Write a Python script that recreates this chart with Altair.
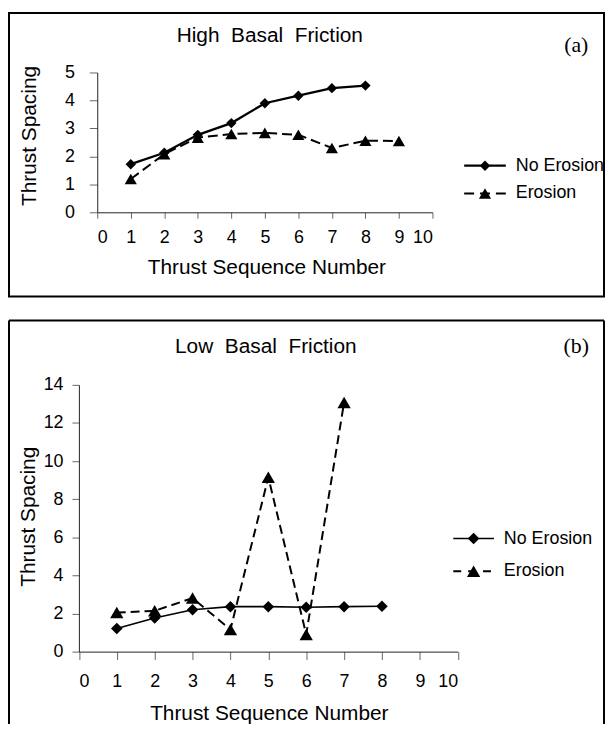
import altair as alt
import pandas as pd

# ---------------- data ----------------
series_names = ["No Erosion", "Erosion"]

seq_a_no = [1, 2, 3, 4, 5, 6, 7, 8]
a_no = [1.72, 2.13, 2.77, 3.19, 3.90, 4.17, 4.44, 4.53]
seq_a_er = [1, 2, 3, 4, 5, 6, 7, 8, 9]
a_er = [1.19, 2.08, 2.67, 2.80, 2.84, 2.77, 2.30, 2.56, 2.55]

seq_b_no = [1, 2, 3, 4, 5, 6, 7, 8]
b_no = [1.21, 1.76, 2.20, 2.36, 2.36, 2.33, 2.36, 2.38]
seq_b_er = [1, 2, 3, 4, 5, 6, 7]
b_er = [2.05, 2.14, 2.81, 1.16, 9.15, 0.90, 13.08]

x_ticks = [0, 1, 2, 3, 4, 5, 6, 7, 8, 9, 10]
ya_ticks = [0, 1, 2, 3, 4, 5]
yb_ticks = [0, 2, 4, 6, 8, 10, 12, 14]

title_a = "High\u00a0 Basal\u00a0 Friction"
title_b = "Low\u00a0 Basal\u00a0 Friction"
x_title = "Thrust Sequence Number"
y_title = "Thrust Spacing"

FONT = "Liberation Sans"
SERIF = "Liberation Serif"


def one(text=""):
    return pd.DataFrame({"t": [text]})


def txt(text, x, y, size, align="center", baseline="alphabetic", font=FONT, angle=0):
    kw = dict(font=font, fontSize=size, align=align, baseline=baseline, color="black")
    if angle:
        kw["angle"] = angle
    return alt.Chart(one(text)).mark_text(**kw).encode(
        x=alt.value(x), y=alt.value(y), text="t:N")


def panel(seq_no, v_no, seq_er, v_er, w, h, xrange, ymax, yticks, yoffset, box,
          title_pos, title_text, tag_text, tag_pos, leg, xax, yax, lw_solid,
          lw_dash, dash, leg_dash, dsize, tsize, closed_box=True):
    X = alt.X("seq:Q", scale=alt.Scale(domain=[0, 10], nice=False, zero=False, range=xrange),
              axis=alt.Axis(values=x_ticks, title=None, grid=False,
                            tickSize=xax["tick"], labelPadding=xax["lpad"],
                            format="d"))
    Y = alt.Y("val:Q", scale=alt.Scale(domain=[0, ymax], nice=False),
              axis=alt.Axis(values=yticks, title=None, grid=False, offset=yoffset,
                            tickSize=yax["tick"], labelPadding=yax["lpad"],
                            format="d"))
    df_no = pd.DataFrame({"seq": seq_no, "val": v_no, "series": series_names[0]})
    df_er = pd.DataFrame({"seq": seq_er, "val": v_er, "series": series_names[1]})

    line_no = alt.Chart(df_no).mark_line(color="black", strokeWidth=lw_solid).encode(x=X, y=Y)
    pt_no = alt.Chart(df_no).mark_point(shape="diamond", filled=True, size=dsize,
                                        color="black", opacity=1).encode(x=X, y=Y)
    line_er = alt.Chart(df_er).mark_line(color="black", strokeWidth=lw_dash,
                                         strokeDash=dash).encode(x=X, y=Y)
    pt_er = alt.Chart(df_er).mark_point(shape="triangle-up", filled=True, size=tsize,
                                        color="black", opacity=1).encode(x=X, y=Y)

    bx0, bx1, by0, by1 = box
    layers = []
    if closed_box:
        layers.append(alt.Chart(one()).mark_rect(fill="white", fillOpacity=0,
                                                 stroke="black", strokeWidth=2).encode(
            x=alt.value(bx0), x2=alt.value(bx1), y=alt.value(by0), y2=alt.value(by1)))
    else:
        layers.append(alt.Chart(one()).mark_rule(color="black", strokeWidth=2).encode(
            x=alt.value(bx0), x2=alt.value(bx1), y=alt.value(by0)))
        layers.append(alt.Chart(one()).mark_rule(color="black", strokeWidth=2).encode(
            x=alt.value(bx0), y=alt.value(by0), y2=alt.value(by1)))
        layers.append(alt.Chart(one()).mark_rule(color="black", strokeWidth=2).encode(
            x=alt.value(bx1), y=alt.value(by0), y2=alt.value(by1)))

    layers.append(txt(title_text, title_pos[0], title_pos[1], 21))
    layers.append(txt(tag_text, tag_pos[0], tag_pos[1], 22, baseline="middle", font=SERIF))
    layers.append(txt(x_title, xax["tx"], xax["ty"], 21))
    layers.append(txt(y_title, yax["tx"], yax["ty"], 21, baseline="middle", angle=270))

    # legend
    lx0, lx1, lxs, ltx, ly1, ly2 = leg
    layers.append(alt.Chart(one()).mark_rule(color="black", strokeWidth=lw_solid).encode(
        x=alt.value(lx0), x2=alt.value(lx1), y=alt.value(ly1)))
    layers.append(alt.Chart(one()).mark_point(shape="diamond", filled=True, size=dsize,
                                              color="black", opacity=1).encode(
        x=alt.value(lxs), y=alt.value(ly1)))
    layers.append(txt(series_names[0], ltx, ly1, 18, align="left", baseline="middle"))
    layers.append(alt.Chart(one()).mark_rule(color="black", strokeWidth=lw_dash,
                                             strokeDash=leg_dash).encode(
        x=alt.value(lx0), x2=alt.value(lx1), y=alt.value(ly2)))
    layers.append(alt.Chart(one()).mark_point(shape="triangle-up", filled=True, size=tsize,
                                              color="black", opacity=1).encode(
        x=alt.value(lxs), y=alt.value(ly2)))
    layers.append(txt(series_names[1], ltx, ly2, 18, align="left", baseline="middle"))

    layers += [line_no, line_er, pt_no, pt_er]
    return alt.layer(*layers).properties(width=w, height=h)


# panel (a): plot area left at page x 98
wa, ha = 338, 141
pa = panel(seq_a_no, a_no, seq_a_er, a_er, wa, ha, [0, wa], 5, ya_ticks, 0,
           box=(-89, 511, -60, 226), title_pos=(174, -31),
           title_text=title_a, tag_text="(a)", tag_pos=(483, -28),
           leg=(370, 412, 391, 422, 94, 122),
           xax={"tick": 6, "lpad": 10, "tx": 171, "ty": ha + 62},
           yax={"tick": 8, "lpad": 15, "tx": -68, "ty": 64},
           lw_solid=2.3, lw_dash=2, dash=[10, 5], leg_dash=[10, 6],
           dsize=110, tsize=150)

# panel (b): view shares the same origin (x 98); its axes start 18.5 px further left
s = 18.5
wb_axis, hb = 382, 269
pb = panel(seq_b_no, b_no, seq_b_er, b_er, wb_axis - s, hb, [-s, wb_axis - s], 14,
           yb_ticks, s,
           box=(-89, 511, -65, hb + 73), title_pos=(188.5 - s, -32),
           title_text=title_b, tag_text="(b)", tag_pos=(483, -39),
           leg=(377.5 - s, 418.5 - s, 398 - s, 428.5 - s, 155, 188),
           xax={"tick": 8, "lpad": 13, "tx": 192 - s, "ty": hb + 69},
           yax={"tick": 7, "lpad": 9, "tx": -50.5 - s, "ty": 133},
           lw_solid=1.6, lw_dash=2, dash=[9, 5], leg_dash=[8, 7],
           dsize=135, tsize=180, closed_box=False)

chart = alt.vconcat(pa, pb, spacing=22).properties(
    padding={"left": 0, "top": 1, "right": 0, "bottom": 0}
).configure_view(stroke=None).configure_axis(
    labelFont=FONT, labelFontSize=18, labelColor="black",
    domainColor="#222", tickColor="#666", domainWidth=1, tickWidth=1
)

chart.save("out.html", embed_options={"renderer": "svg", "actions": False})
